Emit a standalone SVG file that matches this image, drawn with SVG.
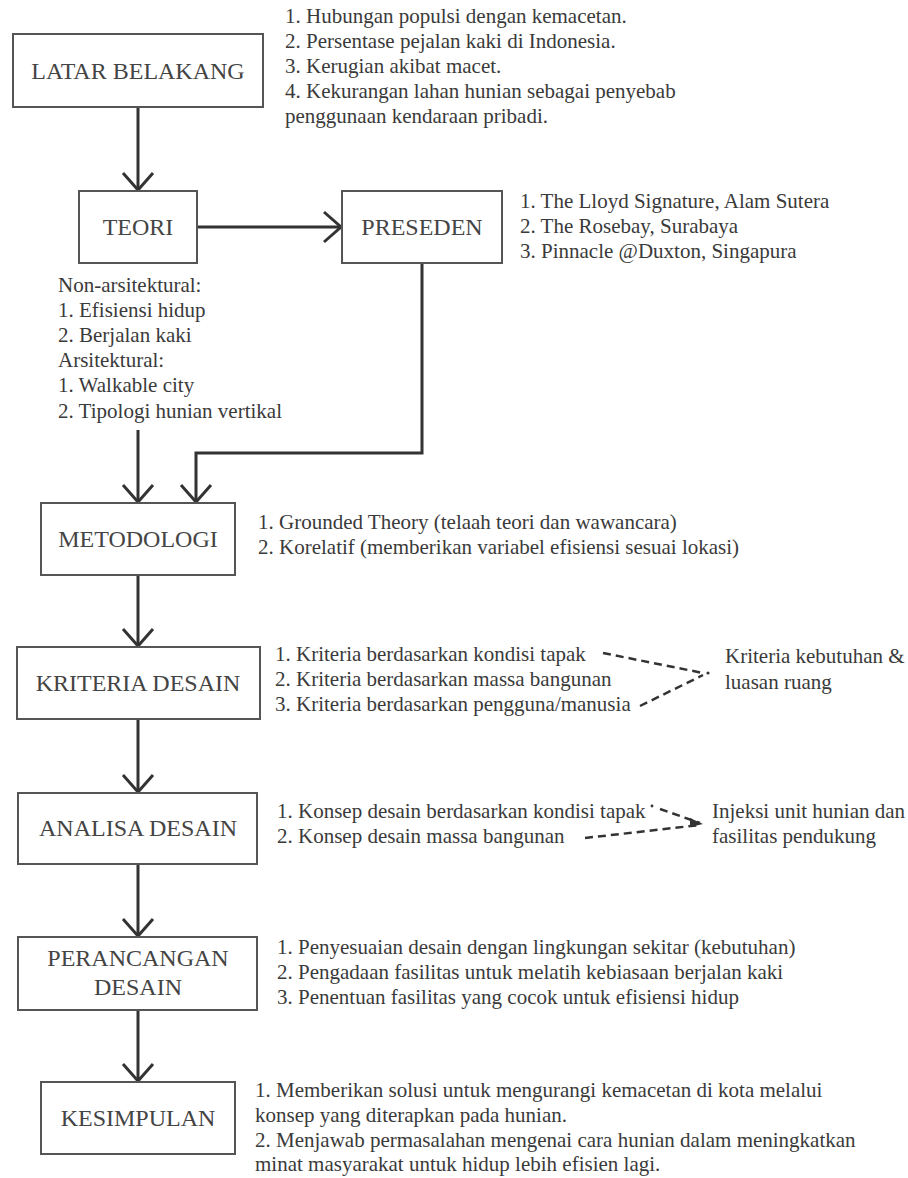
<svg xmlns="http://www.w3.org/2000/svg" width="908" height="1178" viewBox="0 0 908 1178">
<defs>
<style>
.box{fill:#fff;stroke:#555;stroke-width:2}
.lbl{font-family:"Liberation Serif","Times New Roman",serif;font-size:24px;fill:#444;text-anchor:middle}
.txt{font-family:"Liberation Serif","Times New Roman",serif;font-size:21px;fill:#3a3a3a}
.con{fill:none;stroke:#333;stroke-width:3}
.dash{fill:none;stroke:#333;stroke-width:2.5;stroke-dasharray:8 5}
</style>
<marker id="chev" markerUnits="userSpaceOnUse" markerWidth="40" markerHeight="40" refX="0" refY="0" orient="auto" overflow="visible">
<path d="M-17,-15 L0,0 L-17,15" fill="none" stroke="#333" stroke-width="3"/>
</marker>
</defs>
<rect width="908" height="1178" fill="#fff"/>

<g id="connectors">
<line class="con" x1="138" y1="107" x2="138" y2="190" marker-end="url(#chev)"/>
<line class="con" x1="197" y1="227" x2="341" y2="227" marker-end="url(#chev)"/>
<polyline class="con" points="422,263 422,453 196,453 196,502" marker-end="url(#chev)"/>
<line class="con" x1="138" y1="430" x2="138" y2="502" marker-end="url(#chev)"/>
<line class="con" x1="138" y1="575" x2="138" y2="646" marker-end="url(#chev)"/>
<line class="con" x1="138" y1="719" x2="138" y2="792" marker-end="url(#chev)"/>
<line class="con" x1="138" y1="864" x2="138" y2="936" marker-end="url(#chev)"/>
<line class="con" x1="138" y1="1010" x2="138" y2="1081" marker-end="url(#chev)"/>
<line class="dash" x1="603" y1="653" x2="703" y2="673"/>
<line class="dash" x1="640" y1="706" x2="703" y2="675"/>
<circle cx="708" cy="673" r="1.6" fill="#333"/>
<circle cx="652" cy="806" r="1.4" fill="#333"/>
<line class="dash" x1="660" y1="809" x2="700" y2="823"/>
<line class="dash" x1="585" y1="838" x2="700" y2="825"/>
<path d="M690,818 L703,824 L690,827 Z" fill="#333"/>
</g>

<g id="latar">
<rect class="box" x="13" y="34" width="250" height="73"/>
<text class="lbl" x="138" y="79">LATAR BELAKANG</text>
</g>
<g id="latar-notes">
<text class="txt" x="285" y="23">1. Hubungan populsi dengan kemacetan.</text>
<text class="txt" x="285" y="48">2. Persentase pejalan kaki di Indonesia.</text>
<text class="txt" x="285" y="73">3. Kerugian akibat macet.</text>
<text class="txt" x="285" y="98">4. Kekurangan lahan hunian sebagai penyebab</text>
<text class="txt" x="285" y="123">penggunaan kendaraan pribadi.</text>
</g>

<g id="teori">
<rect class="box" x="79" y="191" width="118" height="72"/>
<text class="lbl" x="138" y="235">TEORI</text>
</g>
<g id="teori-notes">
<text class="txt" x="58" y="292">Non-arsitektural:</text>
<text class="txt" x="58" y="317">1. Efisiensi hidup</text>
<text class="txt" x="58" y="342">2. Berjalan kaki</text>
<text class="txt" x="58" y="367">Arsitektural:</text>
<text class="txt" x="58" y="392">1. Walkable city</text>
<text class="txt" x="58" y="418">2. Tipologi hunian vertikal</text>
</g>

<g id="preseden">
<rect class="box" x="342" y="191" width="160" height="72"/>
<text class="lbl" x="422" y="235">PRESEDEN</text>
</g>
<g id="preseden-notes">
<text class="txt" x="520" y="208">1. The Lloyd Signature, Alam Sutera</text>
<text class="txt" x="520" y="233">2. The Rosebay, Surabaya</text>
<text class="txt" x="520" y="258">3. Pinnacle @Duxton, Singapura</text>
</g>

<g id="metodologi">
<rect class="box" x="41" y="503" width="194" height="72"/>
<text class="lbl" x="138" y="547">METODOLOGI</text>
</g>
<g id="metodologi-notes">
<text class="txt" x="258" y="529">1. Grounded Theory (telaah teori dan wawancara)</text>
<text class="txt" x="258" y="554">2. Korelatif (memberikan variabel efisiensi sesuai lokasi)</text>
</g>

<g id="kriteria">
<rect class="box" x="17" y="647" width="243" height="72"/>
<text class="lbl" x="138" y="691">KRITERIA DESAIN</text>
</g>
<g id="kriteria-notes">
<text class="txt" x="275" y="661">1. Kriteria berdasarkan kondisi tapak</text>
<text class="txt" x="275" y="686">2. Kriteria berdasarkan massa bangunan</text>
<text class="txt" x="275" y="711">3. Kriteria berdasarkan pengguna/manusia</text>
</g>
<g id="kriteria-result">
<text class="txt" x="725" y="663">Kriteria kebutuhan &amp;</text>
<text class="txt" x="725" y="689">luasan ruang</text>
</g>

<g id="analisa">
<rect class="box" x="18" y="793" width="239" height="71"/>
<text class="lbl" x="138" y="836">ANALISA DESAIN</text>
</g>
<g id="analisa-notes">
<text class="txt" x="277" y="818">1. Konsep desain berdasarkan kondisi tapak</text>
<text class="txt" x="277" y="843">2. Konsep desain massa bangunan</text>
</g>
<g id="analisa-result">
<text class="txt" x="712" y="818">Injeksi unit hunian dan</text>
<text class="txt" x="712" y="843">fasilitas pendukung</text>
</g>

<g id="perancangan">
<rect class="box" x="18" y="937" width="239" height="73"/>
<text class="lbl" x="138" y="966">PERANCANGAN</text>
<text class="lbl" x="138" y="995">DESAIN</text>
</g>
<g id="perancangan-notes">
<text class="txt" x="277" y="954">1. Penyesuaian desain dengan lingkungan sekitar (kebutuhan)</text>
<text class="txt" x="277" y="979">2. Pengadaan fasilitas untuk melatih kebiasaan berjalan kaki</text>
<text class="txt" x="277" y="1004">3. Penentuan fasilitas yang cocok untuk efisiensi hidup</text>
</g>

<g id="kesimpulan">
<rect class="box" x="41" y="1082" width="194" height="72"/>
<text class="lbl" x="138" y="1126">KESIMPULAN</text>
</g>
<g id="kesimpulan-notes">
<text class="txt" x="255" y="1097">1. Memberikan solusi untuk mengurangi kemacetan di kota melalui</text>
<text class="txt" x="255" y="1122">konsep yang diterapkan pada hunian.</text>
<text class="txt" x="255" y="1147">2. Menjawab permasalahan mengenai cara hunian dalam meningkatkan</text>
<text class="txt" x="255" y="1171">minat masyarakat untuk hidup lebih efisien lagi.</text>
</g>
</svg>
